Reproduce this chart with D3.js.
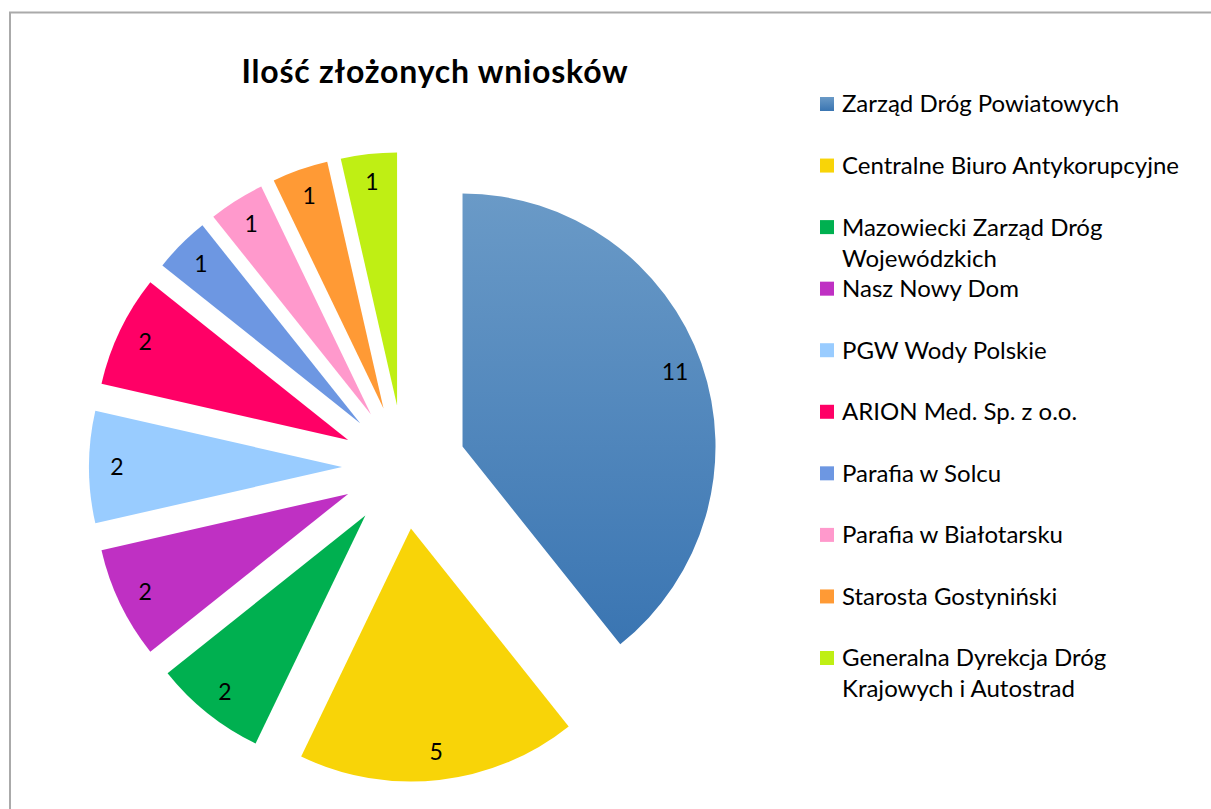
<!DOCTYPE html>
<html>
<head>
<meta charset="utf-8">
<script src="https://cdn.jsdelivr.net/npm/d3@7"></script>
<style>
  html, body { margin: 0; padding: 0; background: #fff; }
  svg { display: block; }
  text { font-family: Lato, "Open Sans", sans-serif; }
</style>
</head>
<body>
<svg id="chart" width="1211" height="809"></svg>
<script>
  // dane wykresu
  var categories = [
    'Zarząd Dróg Powiatowych',
    'Centralne Biuro Antykorupcyjne',
    'Mazowiecki Zarząd Dróg Wojewódzkich',
    'Nasz Nowy Dom',
    'PGW Wody Polskie',
    'ARION Med. Sp. z o.o.',
    'Parafia w Solcu',
    'Parafia w Białotarsku',
    'Starosta Gostyniński',
    'Generalna Dyrekcja Dróg Krajowych i Autostrad'
  ];
  var values = [11, 5, 2, 2, 2, 2, 1, 1, 1, 1];
  // legenda - podział na linie jak w oryginale
  var legendLines = [
    ['Zarząd Dróg Powiatowych'],
    ['Centralne Biuro Antykorupcyjne'],
    ['Mazowiecki Zarząd Dróg', 'Wojewódzkich'],
    ['Nasz Nowy Dom'],
    ['PGW Wody Polskie'],
    ['ARION Med. Sp. z o.o.'],
    ['Parafia w Solcu'],
    ['Parafia w Białotarsku'],
    ['Starosta Gostyniński'],
    ['Generalna Dyrekcja Dróg', 'Krajowych i Autostrad']
  ];
  var colors = ['url(#gradBlue)', '#f8d408', '#00b050', '#bf30c3', '#99ccff',
                '#ff0066', '#6d97e2', '#ff99cc', '#ff9a35', '#bfef14'];
  var title = 'Ilość złożonych wniosków';

  var svg = d3.select('#chart');

  // gradient dla pierwszego wycinka
  var defs = svg.append('defs');
  var grad = defs.append('linearGradient')
    .attr('id', 'gradBlue')
    .attr('x1', 0).attr('y1', 0).attr('x2', 0).attr('y2', 1);
  grad.append('stop').attr('offset', '0%').attr('stop-color', '#6a9ac7');
  grad.append('stop').attr('offset', '100%').attr('stop-color', '#3a75b2');

  // ramka
  svg.append('rect')
    .attr('x', 10).attr('y', 12.5)
    .attr('width', 1300).attr('height', 900)
    .attr('fill', 'none')
    .attr('stroke', '#aaaaaa')
    .attr('stroke-width', 2);

  // tytuł
  svg.append('text')
    .attr('x', 435).attr('y', 83)
    .attr('text-anchor', 'middle')
    .style('font-size', '32px')
    .style('font-weight', 'bold')
    .style('letter-spacing', '0.8px')
    .attr('fill', '#000')
    .text(title);

  // wykres kołowy (rozsunięty)
  var cx = 404, cy = 467, radius = 253, explode = 62;

  var pie = d3.pie().sort(null).value(function(d) { return d; });
  var arc = d3.arc().innerRadius(0).outerRadius(radius);
  var arcs = pie(values);

  function offset(d, dist) {
    var a = (d.startAngle + d.endAngle) / 2;
    return [Math.sin(a) * dist, -Math.cos(a) * dist];
  }

  var g = svg.append('g').attr('transform', 'translate(' + cx + ',' + cy + ')');

  var slice = g.selectAll('g.slice')
    .data(arcs)
    .enter().append('g')
    .attr('class', 'slice')
    .attr('transform', function(d) {
      var o = offset(d, explode);
      return 'translate(' + o[0] + ',' + o[1] + ')';
    });

  slice.append('path')
    .attr('d', arc)
    .attr('fill', function(d, i) { return colors[i]; });

  slice.append('text')
    .attr('x', function(d) { return offset(d, radius * 0.89)[0]; })
    .attr('y', function(d) { return offset(d, radius * 0.89)[1]; })
    .attr('dy', '0.35em')
    .attr('text-anchor', 'middle')
    .style('font-size', '23px')
    .attr('fill', '#000')
    .text(function(d) { return d.data; });

  // legenda
  var legendY = d3.scaleLinear().domain([0, categories.length - 1]).range([104, 658]);
  var legend = svg.append('g');
  var item = legend.selectAll('g.item')
    .data(categories)
    .enter().append('g')
    .attr('class', 'item')
    .attr('transform', function(d, i) { return 'translate(820,' + legendY(i) + ')'; });

  item.append('rect')
    .attr('x', 0).attr('y', -7)
    .attr('width', 14).attr('height', 14)
    .attr('fill', function(d, i) { return colors[i]; });

  item.append('text')
    .attr('x', 22).attr('y', 0)
    .style('font-size', '24px')
    .attr('fill', '#000')
    .each(function(d, i) {
      var t = d3.select(this);
      legendLines[i].forEach(function(line, j) {
        t.append('tspan')
          .attr('x', 22)
          .attr('dy', j === 0 ? '0.35em' : '31px')
          .text(line);
      });
    });
</script>
</body>
</html>
